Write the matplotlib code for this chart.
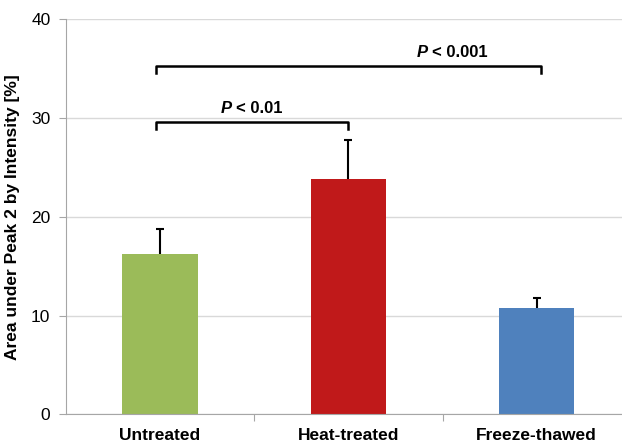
import matplotlib.pyplot as plt
import numpy as np

plt.rcParams['font.family'] = ['Liberation Sans', 'DejaVu Sans']

# Mean area under peak 2 and upper error (SD) for each treatment
groups = ['Untreated', 'Heat-treated', 'Freeze-thawed']
means = [16.2, 23.8, 10.8]
errors = [2.6, 4.0, 1.0]
colors = ['#9BBB59', '#C0191A', '#4F81BD']

# significance brackets: (left, right, bar height, label x, label)
brackets = [(-0.02, 1.0, 29.6, 0.49, 'P < 0.01'),
            (-0.02, 2.02, 35.3, 1.535, 'P < 0.001')]

fig = plt.figure(figsize=(6.22, 4.43), dpi=100)
ax = fig.add_axes([0.1056, 0.0647, 0.9088, 0.8917])

x = np.arange(len(groups))
ax.bar(x, means, width=0.4, color=colors, zorder=2)
eb = ax.errorbar(x, means, yerr=[np.zeros(len(errors)), errors], fmt='none',
                 ecolor='black', elinewidth=1.5, capsize=3, capthick=1.5,
                 zorder=3)
# only the upper whisker gets a cap
eb[1][0].set_visible(False)

ax.set_xlim(-0.5, 2.5)
ax.set_ylim(0, 40)
ax.set_yticks([0, 10, 20, 30, 40])
ax.yaxis.grid(True, color='#D9D9D9', linewidth=1)
ax.set_axisbelow(True)

for side in ['top', 'right']:
    ax.spines[side].set_visible(False)
ax.spines['left'].set_color('#A6A6A6')
ax.spines['bottom'].set_color('#A6A6A6')

ax.set_xticks([0.5, 1.5])
ax.set_xticks(x, minor=True)
ax.set_xticklabels([])
ax.set_xticklabels(groups, minor=True, fontsize=12.5, fontweight='bold')
ax.tick_params(axis='x', which='major', length=5, color='#A6A6A6')
ax.tick_params(axis='x', which='minor', length=0, pad=10)
ax.tick_params(axis='y', length=5, color='#A6A6A6', labelsize=12.5, pad=6)

ax.set_ylabel('Area under Peak 2 by Intensity [%]', fontsize=12.5,
              fontweight='bold', labelpad=8)

for left, right, h, tx, label in brackets:
    ax.plot([left, left, right, right], [h - 0.75, h, h, h - 0.75],
            color='black', linewidth=1.8, clip_on=False, zorder=4)
    p, rest = label.split(' ', 1)
    ax.annotate(p, xy=(tx, h + 0.6), ha='right', va='bottom', fontsize=12,
                fontweight='bold', fontstyle='italic',
                xytext=(-15, 0), textcoords='offset points')
    ax.annotate(rest, xy=(tx, h + 0.6), ha='left', va='bottom', fontsize=12,
                fontweight='bold', xytext=(-12, 0), textcoords='offset points')

fig.savefig('out.png', dpi=100)
